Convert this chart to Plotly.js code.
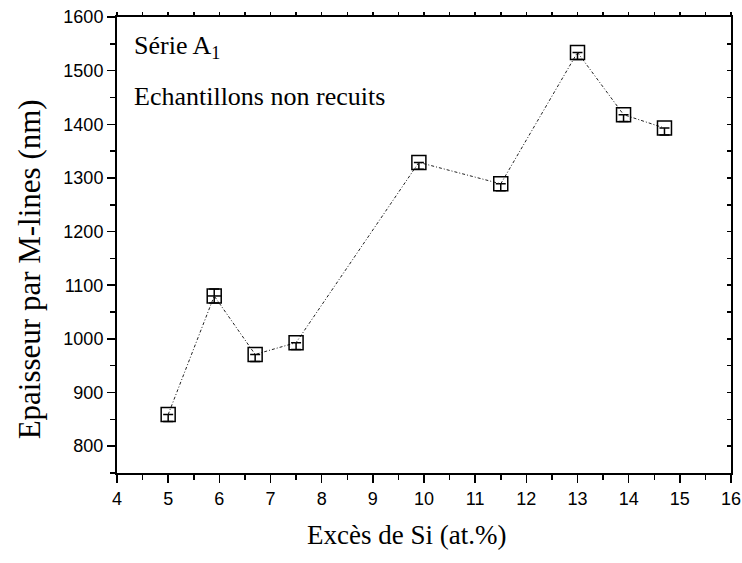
<!DOCTYPE html>
<html>
<head>
<meta charset="utf-8">
<script src="https://cdn.plot.ly/plotly-3.0.1.min.js"></script>
<style>html,body{margin:0;padding:0;background:#fff;}#chart{width:742px;height:563px;}</style>
</head>
<body>
<div id="chart"></div>
<script>
// Data
const siExcess = [5, 5.9, 6.7, 7.5, 9.9, 11.5, 13, 13.9, 14.7];
const thickness = [859, 1080, 971, 993, 1329, 1289, 1534, 1418, 1393];
const errPlus = [0, 13, 0, 0, 0, 0, 0, 0, 0];
const errMinus = [13, 13, 13, 13, 13, 13, 13, 13, 13];
const errX = [0, 0.135, 0, 0, 0, 0, 0, 0, 0];
const xTitle = 'Excès de Si (at.%)';
const yTitle = 'Epaisseur par M-lines (nm)';
const label1 = 'Série A<sub>1</sub>';
const label2 = 'Echantillons non recuits';

const serif = 'Liberation Serif, Times New Roman, serif';
const sans = 'Liberation Sans, Arial, sans-serif';

const main = {
  x: siExcess, y: thickness, type: 'scatter', mode: 'lines+markers',
  line: {color: '#222', width: 1, dash: '3px,2px,1px,2px'},
  marker: {symbol: 'square-open', size: 14, color: '#000', line: {width: 1.5, color: '#000'}},
  error_y: {type: 'data', symmetric: false, array: errPlus, arrayminus: errMinus, color: '#000', thickness: 1.5, width: 5},
  error_x: {type: 'data', array: errX, color: '#000', thickness: 1.5, width: 0},
  showlegend: false, hoverinfo: 'skip'
};
const ghost = {
  x: siExcess, y: thickness, xaxis: 'x2', yaxis: 'y2', type: 'scatter', mode: 'markers',
  marker: {opacity: 0}, showlegend: false, hoverinfo: 'skip'
};

const layout = {
  width: 742, height: 563,
  margin: {l: 117, r: 11, t: 17, b: 90},
  paper_bgcolor: '#fff', plot_bgcolor: '#fff',
  showlegend: false,
  xaxis: {
    range: [4, 16], dtick: 1, tick0: 4, showgrid: false, zeroline: false,
    showline: true, linecolor: '#000', linewidth: 2, mirror: true,
    ticks: 'outside', ticklen: 8, tickwidth: 1.5, tickcolor: '#000',
    minor: {dtick: 0.5, ticks: 'outside', ticklen: 5, tickwidth: 1.5, tickcolor: '#000', showgrid: false},
    tickfont: {family: sans, size: 18, color: '#000'}
  },
  yaxis: {
    range: [750, 1600], dtick: 100, tick0: 800, showgrid: false, zeroline: false,
    showline: true, linecolor: '#000', linewidth: 2, mirror: true,
    ticks: 'outside', ticklen: 8, tickwidth: 1.5, tickcolor: '#000',
    minor: {dtick: 50, ticks: 'outside', ticklen: 5, tickwidth: 1.5, tickcolor: '#000', showgrid: false},
    tickfont: {family: sans, size: 18, color: '#000'}
  },
  xaxis2: {
    overlaying: 'x', side: 'top', anchor: 'y', range: [4, 16], dtick: 0.5, tick0: 4,
    showgrid: false, zeroline: false, showline: false, showticklabels: false,
    ticks: 'outside', ticklen: 4, tickwidth: 1.5, tickcolor: '#000'
  },
  yaxis2: {
    overlaying: 'y', side: 'right', anchor: 'x', range: [750, 1600], dtick: 50, tick0: 800,
    showgrid: false, zeroline: false, showline: false, showticklabels: false,
    ticks: 'inside', ticklen: 4, tickwidth: 1.5, tickcolor: '#000'
  },
  annotations: [
    {x: 4.3, y: 1545, xref: 'x', yref: 'y', xanchor: 'left', yanchor: 'middle', showarrow: false,
     text: label1, font: {family: serif, size: 26, color: '#000'}},
    {x: 4.3, y: 1451, xref: 'x', yref: 'y', xanchor: 'left', yanchor: 'middle', showarrow: false,
     text: label2, font: {family: serif, size: 26, color: '#000'}},
    {x: 0.472, y: -0.136, xref: 'paper', yref: 'paper', xanchor: 'center', yanchor: 'middle', showarrow: false,
     text: xTitle, font: {family: serif, size: 27, color: '#000'}},
    {x: -0.143, y: 0.447, xref: 'paper', yref: 'paper', xanchor: 'center', yanchor: 'middle', showarrow: false,
     textangle: -90, text: yTitle, font: {family: serif, size: 31, color: '#000'}}
  ]
};

Plotly.newPlot('chart', [main, ghost], layout, {staticPlot: true, displayModeBar: false});
</script>
</body>
</html>
